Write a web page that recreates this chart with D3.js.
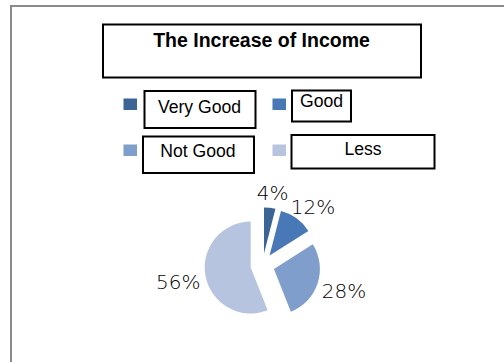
<!DOCTYPE html>
<html>
<head>
<meta charset="utf-8">
<script src="https://cdn.jsdelivr.net/npm/d3@7"></script>
<style>
  html, body { margin: 0; padding: 0; background: #fff; }
  svg { display: block; }
</style>
</head>
<body>
<svg id="chart" width="504" height="362"></svg>
<script>
// Income change survey: share of answers per category
const categories = ["Very Good", "Good", "Not Good", "Less"];
const percents = [4, 12, 28, 56];
const sliceColors = ["#3c6595", "#4878b5", "#7f9ecb", "#b6c4df"];
const chartTitle = "The Increase of Income";

const svg = d3.select("#chart");
const W = 504, H = 362;

// outer chart frame (runs off the right and bottom edges)
svg.append("path")
  .attr("d", `M11,${H + 2} V6 H${W + 2}`)
  .attr("fill", "none")
  .attr("stroke", "#8a8a8a")
  .attr("stroke-width", 2);

// title box
const titleBox = { x: 103, y: 24.5, w: 318, h: 53 };
svg.append("rect")
  .attr("x", titleBox.x).attr("y", titleBox.y)
  .attr("width", titleBox.w).attr("height", titleBox.h)
  .attr("fill", "#fff").attr("stroke", "#000").attr("stroke-width", 2);
svg.append("text")
  .attr("x", titleBox.x + titleBox.w / 2 - 0.5)
  .attr("y", 46.5)
  .attr("text-anchor", "middle")
  .attr("font-family", "'Liberation Sans', Arial, sans-serif")
  .attr("font-weight", "bold")
  .attr("font-size", 19.5)
  .attr("fill", "#000")
  .text(chartTitle);

// legend: swatch + boxed label per category, two columns
const color = d3.scaleOrdinal().domain(categories).range(sliceColors);
const legendLayout = [
  { sx: 123.5, sy: 98.5, box: [144.5, 91, 111, 37], tx: 199.5, ty: 112.5 },
  { sx: 272.5, sy: 98.5, box: [292, 90.5, 59, 31], tx: 321.5, ty: 106.5 },
  { sx: 123.5, sy: 144.5, box: [143, 136.5, 111, 36.5], tx: 198, ty: 156.5 },
  { sx: 272.5, sy: 144.5, box: [291.5, 135, 143, 33.5], tx: 363, ty: 155 }
];
const legend = svg.append("g").selectAll("g")
  .data(categories)
  .join("g");
legend.append("rect")
  .attr("x", (d, i) => legendLayout[i].sx)
  .attr("y", (d, i) => legendLayout[i].sy)
  .attr("width", 13.5).attr("height", 11.5)
  .attr("fill", d => color(d));
legend.append("rect")
  .attr("x", (d, i) => legendLayout[i].box[0])
  .attr("y", (d, i) => legendLayout[i].box[1])
  .attr("width", (d, i) => legendLayout[i].box[2])
  .attr("height", (d, i) => legendLayout[i].box[3])
  .attr("fill", "#fff").attr("stroke", "#000").attr("stroke-width", 2);
legend.append("text")
  .attr("x", (d, i) => legendLayout[i].tx)
  .attr("y", (d, i) => legendLayout[i].ty)
  .attr("text-anchor", "middle")
  .attr("font-family", "'Liberation Sans', Arial, sans-serif")
  .attr("font-size", 17.6)
  .attr("fill", "#000")
  .text(d => d);

// exploded pie
const cx = 262.5, cy = 265.3, radius = 46, explode = 12;
const pie = d3.pie().sort(null).value(d => d.value);
const arcs = pie(categories.map((c, i) => ({ name: c, value: percents[i] })));
const arc = d3.arc().innerRadius(0).outerRadius(radius);

const pieG = svg.append("g").attr("transform", `translate(${cx},${cy})`);
const mid = d => (d.startAngle + d.endAngle) / 2;

pieG.selectAll("path")
  .data(arcs)
  .join("path")
  .attr("transform", d => {
    const a = mid(d);
    return `translate(${Math.sin(a) * explode},${-Math.cos(a) * explode})`;
  })
  .attr("d", arc)
  .attr("fill", d => color(d.data.name));

// percentage labels placed just outside each slice
const labelR = radius + explode + 10;
const labelFontSize = 20;
const lbl = pieG.selectAll("text")
  .data(arcs)
  .join("text")
  .attr("font-family", "'DejaVu Sans', sans-serif")
  .attr("font-weight", 300)
  .attr("font-size", labelFontSize)
  .attr("fill", "#000")
  .attr("text-anchor", "middle")
  .text(d => d.data.value + "%");

lbl.each(function (d) {
  const a = mid(d);
  const w = this.getComputedTextLength();
  const h = 15;
  const px = Math.sin(a) * labelR, py = -Math.cos(a) * labelR;
  const bx = px + Math.sin(a) * w * 0.4;
  const by = py - Math.cos(a) * h / 2;
  d3.select(this).attr("x", bx).attr("y", by + h / 2 + 2);
});
</script>
</body>
</html>
